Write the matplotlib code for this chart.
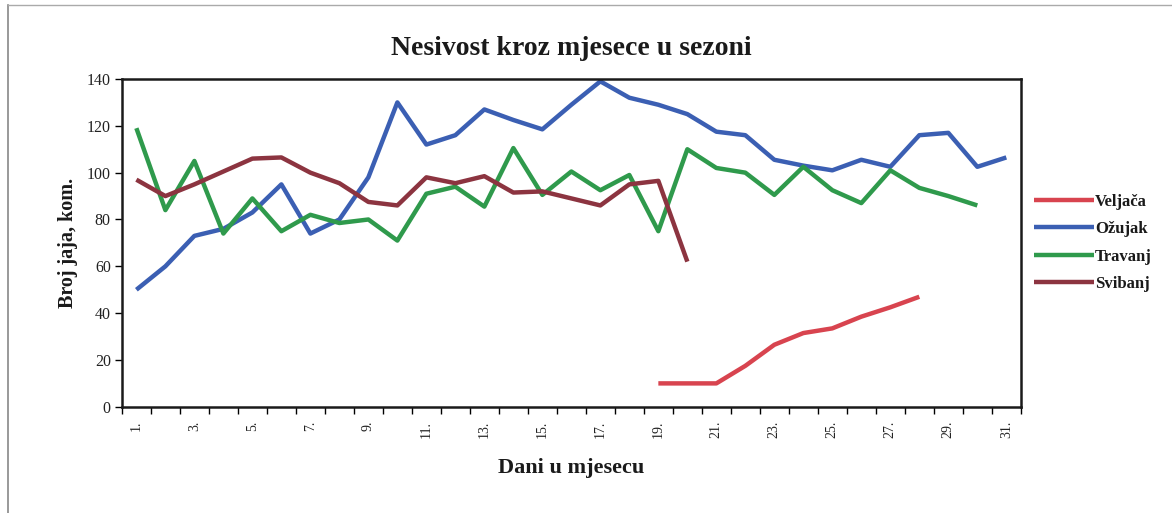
import matplotlib
matplotlib.use("Agg")
import matplotlib.pyplot as plt
import numpy as np

days = list(range(1, 32))
tick_labels = [f"{d}." for d in days]

veljaca_days = [19, 20, 21, 22, 23, 24, 25, 26, 27, 28]
veljaca = [10, 10, 10, 17.5, 26.5, 31.5, 33.5, 38.5, 42.5, 47]

ozujak_days = list(range(1, 32))
ozujak = [50, 60, 73, 76, 83, 95, 74, 80, 98, 130, 112, 116, 127, 122.5, 118.5,
          129, 139, 132, 129, 125, 117.5, 116, 105.5, 103, 101, 105.5, 102.5,
          116, 117, 102.5, 106.5]

travanj_days = list(range(1, 31))
travanj = [119, 84, 105, 74, 89, 75, 82, 78.5, 80, 71, 91, 94, 85.5, 110.5, 90.5,
           100.5, 92.5, 99, 75, 110, 102, 100, 90.5, 102.5, 92.5, 87, 101, 93.5,
           90, 86]

svibanj_days = list(range(1, 21))
svibanj = [97, 90, 95, 100.5, 106, 106.5, 100, 95.5, 87.5, 86, 98, 95.5, 98.5,
           91.5, 92, 89, 86, 95, 96.5, 62]

series = [
    ("Veljača", veljaca_days, veljaca, "#d8444f"),
    ("Ožujak", ozujak_days, ozujak, "#3b5fb3"),
    ("Travanj", travanj_days, travanj, "#2f9a4c"),
    ("Svibanj", svibanj_days, svibanj, "#8c3440"),
]

plt.rcParams['font.family'] = ['Liberation Serif', 'DejaVu Serif']

fig = plt.figure(figsize=(11.72, 5.13), dpi=100)
ax = fig.add_axes([0.104, 0.207, 0.767, 0.639])

for name, xs, ys, c in series:
    ax.plot(xs, ys, color=c, lw=3.2, label=name, solid_capstyle='butt')

ax.set_xlim(0.5, 31.5)
ax.set_ylim(0, 140)
ax.set_yticks(range(0, 141, 20))
ax.set_yticklabels([str(v) for v in range(0, 141, 20)], fontsize=11.5, color='#222222')
ax.set_xticks(np.arange(0.5, 32.0, 1.0))
ax.set_xticklabels([])
ax.set_xticks(days, minor=True)
ax.set_xticklabels([t if d % 2 == 1 else "" for d, t in zip(days, tick_labels)],
                   minor=True, rotation=90, fontsize=10, color='#222222')
ax.tick_params(axis='x', which='minor', length=0, pad=10)
ax.tick_params(axis='x', which='major', length=5, width=1, direction='out')
ax.tick_params(axis='y', length=5, width=1, direction='out', pad=3)
for s in ax.spines.values():
    s.set_linewidth(1.8)
    s.set_color('#1a1a1a')

ax.set_title("Nesivost kroz mjesece u sezoni", fontsize=20, fontweight='bold', pad=17,
             color='#1a1a1a')
ax.set_ylabel("Broj jaja, kom.", fontsize=14.5, fontweight='bold', labelpad=6, color='#1a1a1a')
ax.set_xlabel("Dani u mjesecu", fontsize=16, fontweight='bold', labelpad=14, color='#1a1a1a')

leg = ax.legend(loc='center left', bbox_to_anchor=(0.998, 0.5), frameon=False,
                handlelength=3.6, handletextpad=0.05, labelspacing=0.68,
                prop={'family': 'Liberation Serif', 'weight': 'bold', 'size': 12})
for t in leg.get_texts():
    t.set_color('#1a1a1a')

fig.add_artist(plt.Line2D([0.007, 0.007], [0, 0.99], color='#888888', lw=1.2))
fig.add_artist(plt.Line2D([0.007, 1.0], [0.99, 0.99], color='#aaaaaa', lw=1.0))

fig.savefig("out.png", dpi=100, facecolor='white')
